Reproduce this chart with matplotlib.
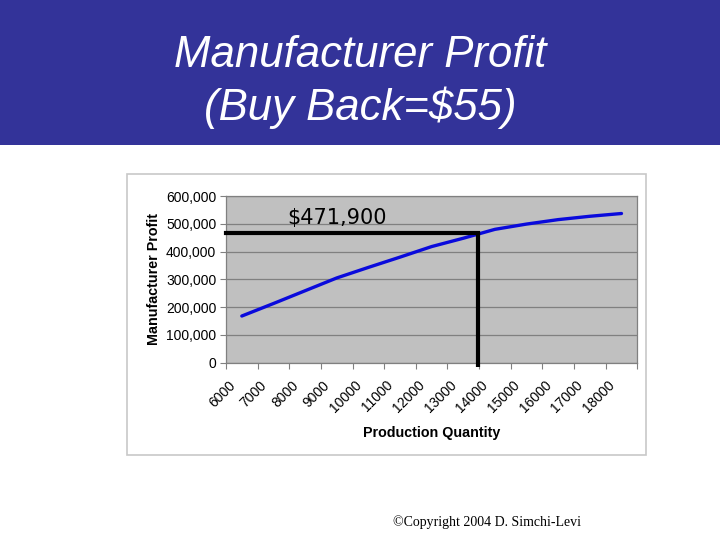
import matplotlib
matplotlib.use("Agg")
import matplotlib.pyplot as plt
from matplotlib.patches import Rectangle
from matplotlib.transforms import ScaledTranslation
from matplotlib.ticker import FuncFormatter

# ---- data ----
categories = ["6000", "7000", "8000", "9000", "10000", "11000", "12000",
              "13000", "14000", "15000", "16000", "17000", "18000"]
profit = [168000, 213000, 259000, 305000, 343000, 380000, 418000,
          448000, 480000, 499000, 515000, 527000, 537000]
yticks = [0, 100000, 200000, 300000, 400000, 500000, 600000]
marker_value = 466000          # horizontal reference line level
marker_label = "$471,900"
marker_pos = 7.455             # position (category index) of the vertical line

title_line1 = "Manufacturer Profit"
title_line2 = "(Buy Back=$55)"
xlabel = "Production Quantity"
ylabel = "Manufacturer Profit"
copyright_text = "\u00a9Copyright 2004 D. Simchi-Levi"

W, H = 720, 540
fig = plt.figure(figsize=(7.2, 5.4), dpi=100)
fig.patch.set_facecolor("white")

def fx(px):
    return px / W

def fy(py):
    return 1 - py / H

# title banner
fig.patches.append(Rectangle((0, fy(145)), 1, 145 / H, transform=fig.transFigure,
                             facecolor="#333399", edgecolor="none", zorder=-2))
fig.text(0.5, fy(67), title_line1, color="white", fontsize=31.5, style="italic",
         family="Liberation Sans", ha="center", va="baseline")
fig.text(0.5, fy(120), title_line2, color="white", fontsize=31.5, style="italic",
         family="Liberation Sans", ha="center", va="baseline")

# chart box
fig.patches.append(Rectangle((fx(127), fy(454.5)), (646 - 127) / W, (454.5 - 174) / H,
                             transform=fig.transFigure, facecolor="white",
                             edgecolor="#C8C8C8", linewidth=1.2, zorder=-2))

# axes (plot area)
left, right, top, bottom = 226, 637.3, 196, 362.7
ax = fig.add_axes([fx(left), fy(bottom), (right - left) / W, (bottom - top) / H])
ax.set_zorder(1)
ax.set_facecolor("#C0C0C0")
n = len(categories)
ax.set_xlim(-0.5, n - 0.5)
ax.set_ylim(0, 600000)

xs = list(range(n))
ax.plot(xs, profit, color="#0A0ADC", linewidth=2.4, solid_capstyle="round", zorder=3)

# gridlines
ax.set_yticks(yticks)
ax.yaxis.set_major_formatter(FuncFormatter(lambda v, p: "0" if v == 0 else f"{int(v):,}"))
ax.grid(axis="y", color="#808080", linewidth=0.9)
ax.set_axisbelow(True)

# x ticks: boundaries as major (marks), centers as minor (labels)
ax.set_xticks([i - 0.5 for i in range(n + 1)])
ax.set_xticklabels([])
ax.set_xticks(xs, minor=True)
ax.set_xticklabels(categories, minor=True, rotation=45, ha="right", va="top",
                   fontsize=10, family="Liberation Sans")
ax.tick_params(axis="x", which="major", length=4, color="#808080", direction="out")
ax.tick_params(axis="x", which="minor", length=0, pad=11)
ax.tick_params(axis="y", length=4, color="#808080", labelsize=10, pad=3)
for lab in ax.get_yticklabels():
    lab.set_family("Liberation Sans")
offset = ScaledTranslation(-4 / 100, 0, fig.dpi_scale_trans)
for lab in ax.xaxis.get_minorticklabels():
    lab.set_transform(lab.get_transform() + offset)

for s in ax.spines.values():
    s.set_color("#808080")
    s.set_linewidth(0.9)

ax.set_xlabel(xlabel, fontsize=10.3, fontweight="bold", family="Liberation Sans", labelpad=8)
ax.set_ylabel(ylabel, fontsize=10.3, fontweight="bold", family="Liberation Sans", labelpad=3.5)

# reference lines
ax.plot([-0.5, marker_pos], [marker_value, marker_value], color="black",
        linewidth=3, solid_capstyle="projecting", clip_on=False, zorder=4)
ax.plot([marker_pos, marker_pos], [marker_value, -14000], color="black",
        linewidth=3, solid_capstyle="butt", clip_on=False, zorder=4)
ax.text(1.43, 499000, marker_label, fontsize=15, family="DejaVu Sans",
        ha="left", va="baseline", color="black", zorder=5)

fig.text(fx(487), fy(522), copyright_text, fontsize=10, family="Liberation Serif",
         ha="center", va="center", color="black")

fig.savefig("out.png", dpi=100)
